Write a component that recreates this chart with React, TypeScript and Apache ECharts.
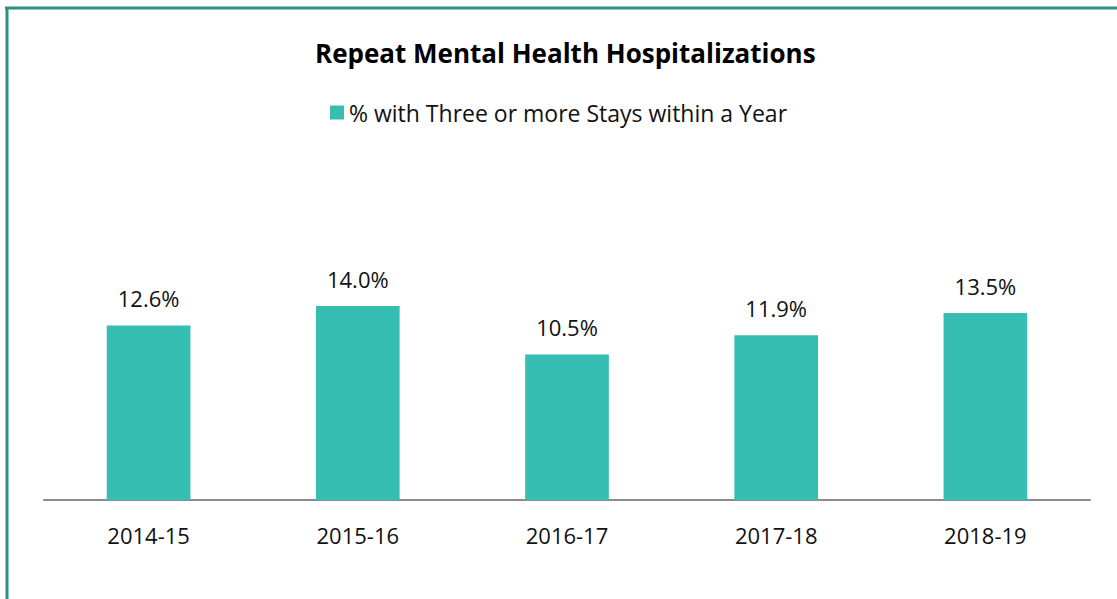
import React, { useEffect, useRef } from "react";
import * as echarts from "echarts";

const categories = ["2014-15", "2015-16", "2016-17", "2017-18", "2018-19"];
const values = [12.6, 14.0, 10.5, 11.9, 13.5];
const seriesName = "% with Three or more Stays within a Year";
const titleText = "Repeat Mental Health Hospitalizations";

export default function App() {
  const ref = useRef<HTMLDivElement>(null);
  useEffect(() => {
    if (!ref.current) return;
    const chart = echarts.init(ref.current, null, { renderer: "svg" });
    const font = "'Open Sans', 'Noto Sans', sans-serif";
    chart.setOption({
      animation: false,
      backgroundColor: "#ffffff",
      title: {
        text: titleText,
        left: 310,
        top: 35,
        padding: 5,
        textStyle: {
          fontFamily: font,
          fontSize: 26,
          fontWeight: "bold",
          color: "#000000",
          lineHeight: 26,
        },
      },
      legend: {
        data: [seriesName],
        left: "center",
        top: 101,
        padding: 0,
        itemWidth: 14,
        itemHeight: 14,
        icon: "rect",
        textStyle: {
          fontFamily: font,
          fontSize: 23,
          color: "#111111",
          lineHeight: 23,
        },
      },
      grid: {
        left: 44,
        right: 27,
        top: 223,
        bottom: 99,
        containLabel: false,
      },
      xAxis: {
        type: "category",
        data: categories,
        axisLine: { show: true, lineStyle: { color: "#8c8c8c", width: 2 } },
        axisTick: { show: false },
        axisLabel: {
          margin: 23,
          fontFamily: font,
          fontSize: 22,
          color: "#111111",
          lineHeight: 23,
        },
        splitLine: { show: false },
      },
      yAxis: {
        type: "value",
        min: 0,
        max: 20,
        show: false,
        splitLine: { show: false },
      },
      series: [
        {
          name: seriesName,
          type: "bar",
          data: values,
          barCategoryGap: "60%",
          itemStyle: { color: "#37beb3" },
          label: {
            show: true,
            position: "top",
            distance: 16,
            formatter: (p: any) => p.value.toFixed(1) + "%",
            fontFamily: font,
            fontSize: 22,
            color: "#111111",
            lineHeight: 23,
          },
        },
      ],
      graphic: [
        {
          type: "line",
          shape: { x1: 5, y1: 8, x2: 1117, y2: 8 },
          style: { stroke: "#2e8f85", lineWidth: 3 },
        },
        {
          type: "line",
          shape: { x1: 7, y1: 7, x2: 7, y2: 599 },
          style: { stroke: "#2e8f85", lineWidth: 3 },
        },
      ],
    });
    return () => chart.dispose();
  }, []);
  return (
    <div
      ref={ref}
      style={{ position: "fixed", left: 0, top: 0, width: 1117, height: 599 }}
    />
  );
}
